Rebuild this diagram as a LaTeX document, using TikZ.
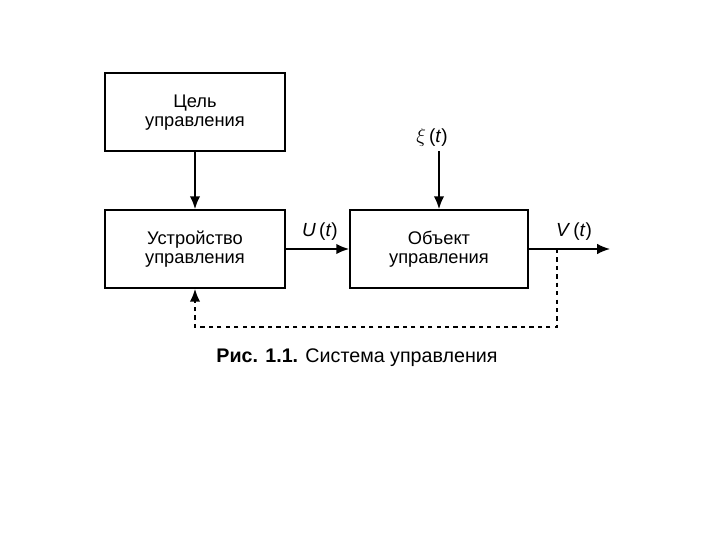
\documentclass[tikz,border=0pt]{standalone}
\usepackage{fontspec}
\setmainfont{Liberation Sans}
\usetikzlibrary{arrows.meta}
\tikzset{
  blok/.style={draw, line width=1.3pt, minimum width=4.5cm, minimum height=1.95cm, align=center, font=\fontsize{13}{13.5}\selectfont},
  sig/.style={-{Latex[length=3.2mm,width=2.6mm]}, line width=1.1pt},
  lbl/.style={font=\fontsize{13.5}{15}\selectfont}
}
\begin{document}
\begin{tikzpicture}
    \useasboundingbox (0,0) rectangle (18,13.5);
    \node[blok] (cel)  at (4.875,10.69) {Цель\\управления};
    \node[blok] (ustr) at (4.875,7.275) {Устройство\\управления};
    \node[blok, minimum width=4.45cm] (obj) at (10.975,7.275) {Объект\\управления};
    \node[lbl] (xi) at (10.8,10.07) {$\xi$\,(\textit{t})};
    \node[lbl] (u)  at (8.0,7.72)  {\textit{U}\,(\textit{t})};
    \node[lbl] (v)  at (14.35,7.72) {\textit{V}\,(\textit{t})};
    \coordinate (out) at (15.25,7.275);
    \coordinate (tap) at (13.925,7.275);
    \draw[sig] (cel) -- (ustr);
    \draw[sig] (ustr) -- (obj);
    \draw[sig] (obj.north |- xi.south) -- (obj.north);
    \draw[sig] (obj) -- (out);
    \draw[sig, dashed] (tap) -- (13.925,5.33) -| (ustr.south);
    \node[font=\fontsize{14}{16}\selectfont] (cap) at (8.925,4.55) {\textbf{Рис. 1.1.} Система управления};
\end{tikzpicture}
\end{document}
